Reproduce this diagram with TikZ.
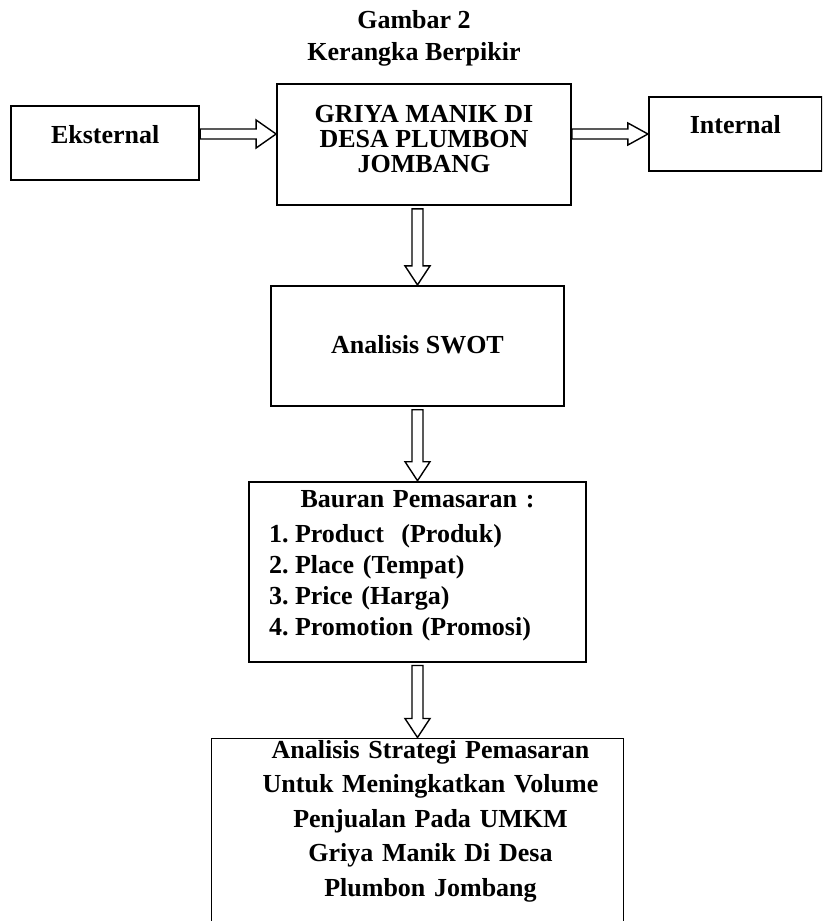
\documentclass[tikz,border=0pt]{standalone}
\usepackage{fontspec}
\setmainfont{Liberation Serif}
\usetikzlibrary{positioning,calc}

\tikzset{
  box/.style={draw, line width=1.8pt, inner sep=0pt, align=center,
    font=\bfseries\fontsize{26}{25}\selectfont},
  hollow/.style={draw, line width=1.4pt, line join=miter},
}

% hollow block arrows (shaft on the target's x, or on the y of intl)
\newcommand{\hollowdown}[2]{%
  \draw[hollow] let \p1=(#1.south), \p2=(#2.north) in
    (\x2-5.5pt,\y1-3pt) -- (\x2-5.5pt,\y2+19pt) -- (\x2-12.5pt,\y2+19pt)
    -- (\x2,\y2) -- (\x2+12.5pt,\y2+19pt) -- (\x2+5.5pt,\y2+19pt)
    -- (\x2+5.5pt,\y1-3pt) -- cycle;}
\newcommand{\hollowright}[3]{%
  \draw[hollow] let \p1=(#1.east), \p2=(#2.west), \p3=(intl.center) in
    (\x1,\y3+5pt) -- (\x2-20pt,\y3+5pt) -- (\x2-20pt,\y3+#3)
    -- (\x2,\y3) -- (\x2-20pt,\y3-#3) -- (\x2-20pt,\y3-5pt)
    -- (\x1,\y3-5pt) -- cycle;}
% one centred line in a left-aligned box, moved right by #1
\newcommand{\midline}[2]{\leavevmode\hspace*{#1}\hfill\mbox{#2}\hfill\null}

\begin{document}
\begin{tikzpicture}[x=1pt, y=-1pt]
    \useasboundingbox (0,0) rectangle (822,921);
    \clip (0,0) rectangle (822,921);

    \node (title) [align=center, inner sep=0pt, text height=52pt, text depth=8pt,
        font=\bfseries\fontsize{26}{32}\selectfont] at (414,38) {Gambar 2\\Kerangka Berpikir};

    \node (griya) [box, minimum width=294pt, minimum height=121pt,
        text height=70pt, text depth=15pt] at (424,144.5) {GRIYA MANIK DI\\DESA PLUMBON\\JOMBANG};
    \node (eks) [box, minimum width=188pt, minimum height=74pt,
        text height=18pt, text depth=18pt, left=76pt of griya, yshift=1.5pt] {Eksternal};
    \node (intl) [box, minimum width=173pt, minimum height=74pt,
        text height=18pt, text depth=20pt, right=76pt of griya, yshift=10.5pt] {Internal};

    \node (swot) [box, minimum width=293pt, minimum height=120pt,
        text height=20pt, text depth=4pt, below=79pt of griya, xshift=-6.5pt] {Analisis SWOT};

    \node (bauran) [box, minimum width=337pt, minimum height=180pt, text width=297pt,
        inner xsep=20pt, align=left, text height=20pt, text depth=148pt,
        font=\bfseries\fontsize{26}{31}\selectfont, below=74pt of swot]
        {\midline{0pt}{Bauran Pemasaran :}\\[4pt]
         \makebox[26pt][l]{1.}\mbox{Product\ \ (Produk)}\\
         \makebox[26pt][l]{2.}\mbox{Place (Tempat)}\\
         \makebox[26pt][l]{3.}\mbox{Price (Harga)}\\
         \makebox[26pt][l]{4.}\mbox{Promotion (Promosi)}};

    \node (akhir) [box, minimum width=412pt, minimum height=240pt, text width=386pt,
        inner xsep=13pt, align=left, text height=20pt, text depth=220pt,
        font=\bfseries\fontsize{26}{34.5}\selectfont, below=75pt of bauran]
        {\midline{26pt}{Analisis Strategi Pemasaran}\\
         \midline{26pt}{Untuk Meningkatkan Volume}\\
         \midline{26pt}{Penjualan Pada UMKM}\\
         \midline{26pt}{Griya Manik Di Desa}\\
         \midline{26pt}{Plumbon Jombang}};

    \hollowright{eks}{griya}{14pt}
    \hollowright{griya}{intl}{11pt}
    \hollowdown{griya}{swot}
    \hollowdown{swot}{bauran}
    \hollowdown{bauran}{akhir}
\end{tikzpicture}
\end{document}
